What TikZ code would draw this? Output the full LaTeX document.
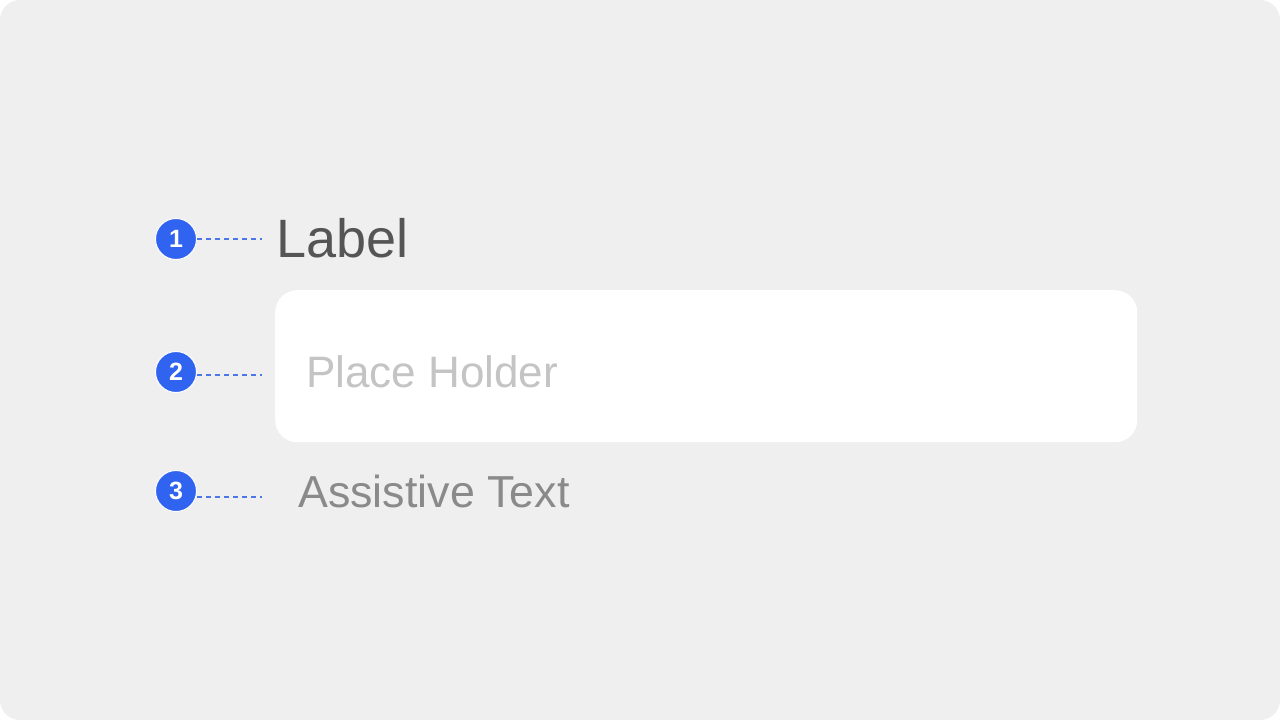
\documentclass[tikz,border=0pt]{standalone}
\usepackage{fontspec}
\setmainfont{Liberation Sans}
\usepackage{xcolor}
\usetikzlibrary{positioning, calc}

\definecolor{canvas}{HTML}{EFEFEF}
\definecolor{badgeblue}{HTML}{2F63F0}
\definecolor{leadblue}{HTML}{4A76EA}
\definecolor{labelgray}{HTML}{555555}
\definecolor{holdergray}{HTML}{C4C4C4}
\definecolor{assistgray}{HTML}{8A8A8A}

\begin{document}
\begin{tikzpicture}[
    x=1pt, y=-1pt,
    badge/.style={circle, fill=badgeblue, draw=white, line width=1pt, minimum size=41pt, inner sep=0pt, text=white, font=\fontsize{25}{25}\selectfont\bfseries},
    lead/.style={draw=leadblue, line width=1.2pt, dash pattern=on 5pt off 4pt},
    field/.style={rectangle, rounded corners=22pt, fill=white, minimum width=862pt, minimum height=152pt, anchor=north west},
    txt/.style={inner sep=0pt, anchor=base west}
]

% Background
\fill[white] (0,0) rectangle (1280,720);
\fill[canvas, rounded corners=20pt] (0,0) rectangle (1280,720);
\useasboundingbox (0,0) rectangle (1280,720);

% Nodes
\node[badge] (n1) at (176,239) {1};
\node[badge] (n2) at (176,372) {2};
\node[badge] (n3) at (176,491) {3};

\node[field] (box) at (275,290) {};

\node[txt, text=labelgray, font=\fontsize{54}{54}\selectfont] (lbl) at (276,257) {Label};
\node[txt, text=holdergray, font=\fontsize{44}{44}\selectfont] (holder) at (306,387) {Place Holder};
\node[txt, text=assistgray, font=\fontsize{44.8}{44.8}\selectfont] (hint) at (298,507) {Assistive Text};

\coordinate (e1) at (262,239);
\coordinate (e2) at (262,375);
\coordinate (e3) at (262,497);

% Leaders
\draw[lead] (n1.east) -- (e1);
\draw[lead] (n2.east |- e2) -- (e2);
\draw[lead] (n3.east |- e3) -- (e3);

\end{tikzpicture}
\end{document}
